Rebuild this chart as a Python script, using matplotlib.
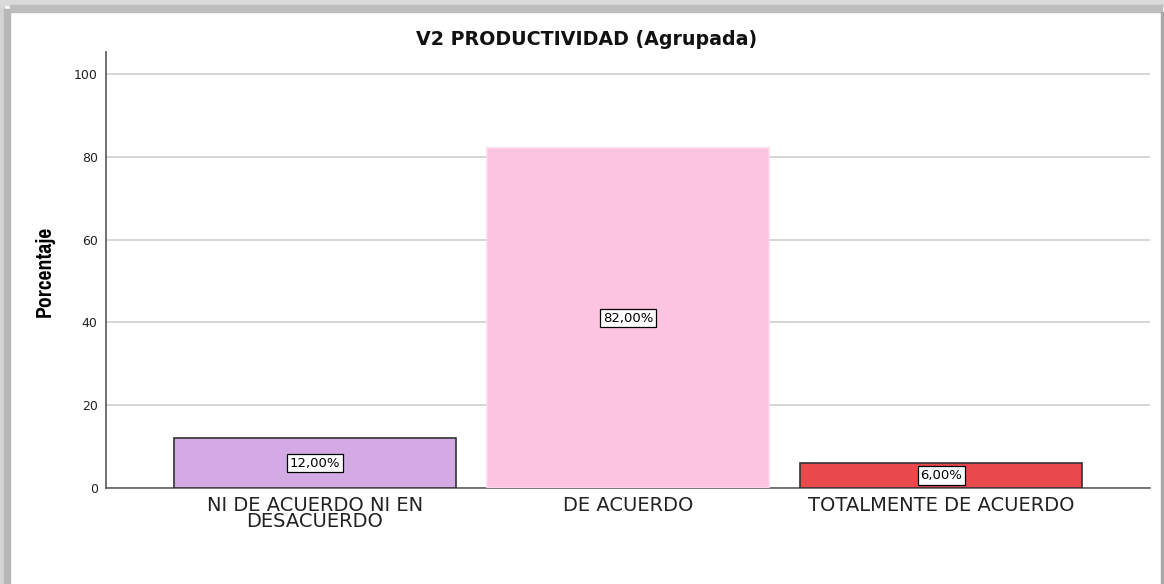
import matplotlib.pyplot as plt
from matplotlib.patches import Rectangle
from matplotlib import font_manager

# datos del grafico
categorias = ["NI DE ACUERDO NI EN\nDESACUERDO", "DE ACUERDO", "TOTALMENTE DE ACUERDO"]
porcentajes = [12.0, 82.0, 6.0]
etiquetas = ["12,00%", "82,00%", "6,00%"]
colores = ["#d3aae4", "#fdc4e1", "#e84a4c"]
bordes = ["#333333", "#fdd8ea", "#333333"]
yticks = [0, 20, 40, 60, 80, 100]

plt.rcParams['font.family'] = ['DejaVu Sans']

fig = plt.figure(figsize=(11.64, 5.84), dpi=100)
ax = fig.add_axes([0.0911, 0.1644, 0.8969, 0.7466])

# marco gris con sombra (como en la captura)
fig.patches.append(Rectangle((0, 0), 0.0035, 1, transform=fig.transFigure, color="#d4d4d4", zorder=0))
fig.patches.append(Rectangle((0.0035, 0), 0.005, 0.985, transform=fig.transFigure, color="#b7b7b7", zorder=0))
fig.patches.append(Rectangle((0, 0.991), 1, 0.009, transform=fig.transFigure, color="#dadada", zorder=0))
fig.patches.append(Rectangle((0.0085, 0.979), 0.99, 0.012, transform=fig.transFigure, color="#bdbdbd", zorder=0))
fig.patches.append(Rectangle((0.9975, 0), 0.0025, 0.98, transform=fig.transFigure, color="#a8a8a8", zorder=0))

x = range(len(categorias))
barras = ax.bar(x, porcentajes, width=0.9, color=colores, edgecolor=bordes, linewidth=1.2, zorder=3)

for i, (v, t) in enumerate(zip(porcentajes, etiquetas)):
    ax.text(i, v / 2, t, ha="center", va="center", fontsize=9.5, color="black", zorder=4,
            bbox=dict(boxstyle="square,pad=0.2", facecolor="white", edgecolor="black", linewidth=0.9))

ax.set_xlim(-0.667, 2.667)
ax.set_ylim(0, 105.3)
ax.set_yticks(yticks)
ax.set_yticklabels([str(t) for t in yticks], fontsize=9, color="#222222")
ax.set_xticks(list(x))
ax.set_xticklabels(categorias, fontsize=14, color="#222222", linespacing=0.8)
ax.tick_params(axis="both", length=0)
ax.tick_params(axis="y", pad=6)
ax.tick_params(axis="x", pad=6)
ax.yaxis.grid(True, color="#d0d0d0", linewidth=1.2, zorder=0)
ax.set_axisbelow(True)

for s in ["top", "right"]:
    ax.spines[s].set_visible(False)
ax.spines["left"].set_color("#666666")
ax.spines["left"].set_linewidth(1.3)
ax.spines["bottom"].set_color("#555555")
ax.spines["bottom"].set_linewidth(1.1)

narrow = [f for f in font_manager.get_font_names() if "Narrow" in f]
ylab_font = [narrow[0], 'DejaVu Sans'] if narrow else ['Liberation Sans', 'DejaVu Sans']
fig.text(0.0387, 0.536, "Porcentaje", rotation=90, ha="center", va="center",
         fontsize=17, fontweight="bold", family=ylab_font)

fig.text(0.504, 0.932, "V2 PRODUCTIVIDAD (Agrupada)", ha="center", va="center",
         fontsize=13.7, fontweight="bold", color="#111111")

fig.savefig("out.png", dpi=100)
